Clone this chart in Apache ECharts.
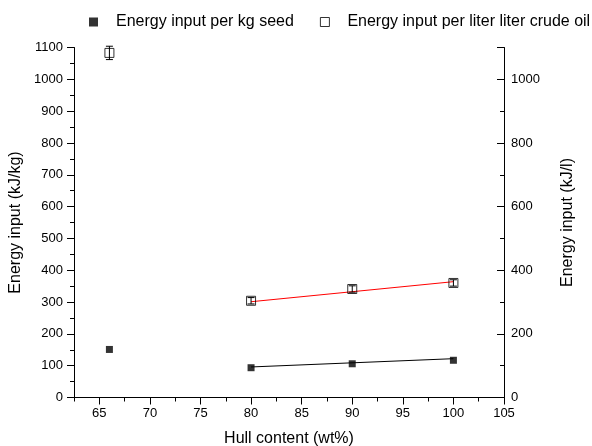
<!DOCTYPE html>
<html>
<head>
<meta charset="utf-8">
<script src="https://cdn.jsdelivr.net/npm/echarts@6/dist/echarts.min.js"></script>
<style>
  html, body { margin: 0; padding: 0; background: #fff; }
  #chart { width: 592px; height: 446px; }
</style>
</head>
<body>
<div id="chart"></div>
<script>
// Hull content (wt%) of the samples
const hull = [66, 80, 90, 100];
// Energy input per kg seed (kJ/kg), left axis
const perKg = [151, 93.6, 106, 117];
// Energy input per liter crude oil (kJ/l), right axis
const perLiter = [1083, 304, 341, 360];
const perLiterErr = [21, 10, 10, 10];
// Linear fits over 80-100 wt%
const fitHull = [80, 100];
const fitKg = [96, 122];
const fitLiter = [301, 364];

const FONT = 'Liberation Sans, Arial, Helvetica, sans-serif';
const ink = '#000';

// Plot box (px)
const PLOT_LEFT = 74, PLOT_RIGHT = 88, PLOT_TOP = 47.5, PLOT_BOTTOM = 48.5;
const X_MIN = 62.5, X_MAX = 105, X_LABEL_MIN = 65;
const pxPerUnit = (592 - PLOT_LEFT - PLOT_RIGHT) / (X_MAX - X_MIN);

const chart = echarts.init(document.getElementById('chart'), null, { renderer: 'canvas' });

const zip = (xs, ys) => xs.map((x, i) => [x, ys[i]]);

chart.setOption({
  animation: false,
  backgroundColor: '#fff',
  textStyle: { fontFamily: FONT, color: ink },
  legend: {
    orient: 'horizontal',
    top: 9,
    left: 84,
    width: 540,
    itemGap: 26,
    itemWidth: 9,
    itemHeight: 9,
    textStyle: { fontFamily: FONT, fontSize: 16, color: ink, padding: [0, 0, 0, 13] },
    data: [
      { name: 'Energy input per kg seed', icon: 'rect', itemStyle: { color: ink } },
      { name: 'Energy input per liter liter crude oil', icon: 'rect',
        itemStyle: { color: '#fff', borderColor: ink, borderWidth: 1 } }
    ]
  },
  grid: [
    { left: PLOT_LEFT, right: PLOT_RIGHT, top: PLOT_TOP, bottom: PLOT_BOTTOM,
      containLabel: false, outerBoundsMode: 'none' },
    // same box, starting at the first labelled value, for the major ticks and labels
    { left: PLOT_LEFT + (X_LABEL_MIN - X_MIN) * pxPerUnit, right: PLOT_RIGHT,
      top: PLOT_TOP, bottom: PLOT_BOTTOM, containLabel: false, outerBoundsMode: 'none' }
  ],
  xAxis: [
    {
      type: 'value',
      gridIndex: 0,
      min: X_MIN,
      max: X_MAX,
      interval: 2.5,
      name: 'Hull content (wt%)',
      nameLocation: 'middle',
      nameGap: 33,
      nameTextStyle: { fontFamily: FONT, fontSize: 16, color: ink },
      axisLine: { show: true, onZero: false, lineStyle: { color: ink, width: 1 } },
      axisTick: { show: true, inside: false, length: 4, lineStyle: { color: ink } },
      axisLabel: { show: false },
      splitLine: { show: false }
    },
    {
      type: 'value',
      gridIndex: 1,
      min: X_LABEL_MIN,
      max: X_MAX,
      interval: 5,
      axisLine: { show: false, onZero: false },
      axisTick: { show: true, inside: false, length: 7, lineStyle: { color: ink } },
      axisLabel: { fontFamily: FONT, fontSize: 13, color: ink, margin: 9 },
      splitLine: { show: false }
    }
  ],
  yAxis: [
    {
      type: 'value',
      gridIndex: 0,
      min: 0,
      max: 1100,
      interval: 100,
      name: 'Energy input (kJ/kg)',
      nameLocation: 'middle',
      nameRotate: 90,
      nameGap: 44,
      nameTextStyle: { fontFamily: FONT, fontSize: 16, color: ink },
      axisLine: { show: true, lineStyle: { color: ink, width: 1 } },
      axisTick: { show: true, inside: false, length: 7, lineStyle: { color: ink } },
      minorTick: { show: true, splitNumber: 2, length: 4, lineStyle: { color: ink } },
      axisLabel: { fontFamily: FONT, fontSize: 13, color: ink, margin: 11,
        formatter: v => String(v) },
      splitLine: { show: false }
    },
    {
      type: 'value',
      gridIndex: 0,
      position: 'right',
      min: 0,
      max: 1100,
      interval: 200,
      name: 'Energy input (kJ/l)',
      nameLocation: 'middle',
      nameRotate: 90,
      nameGap: 56,
      nameTextStyle: { fontFamily: FONT, fontSize: 16, color: ink },
      axisLine: { show: true, lineStyle: { color: ink, width: 1 } },
      axisTick: { show: true, inside: true, length: 7, lineStyle: { color: ink } },
      minorTick: { show: true, splitNumber: 2, length: 4, lineStyle: { color: ink } },
      axisLabel: { fontFamily: FONT, fontSize: 13, color: ink, margin: 7,
        formatter: v => (v % 200 === 0 ? String(v) : '') },
      splitLine: { show: false }
    },
    {
      type: 'value',
      gridIndex: 1,
      min: 0,
      max: 1100,
      show: false
    }
  ],
  series: [
    {
      name: 'fit kg',
      type: 'line',
      xAxisIndex: 0,
      yAxisIndex: 0,
      data: zip(fitHull, fitKg),
      symbol: 'none',
      lineStyle: { color: ink, width: 1 },
      silent: true,
      z: 2
    },
    {
      name: 'fit liter',
      type: 'line',
      xAxisIndex: 0,
      yAxisIndex: 1,
      data: zip(fitHull, fitLiter),
      symbol: 'none',
      lineStyle: { color: '#ff0000', width: 1 },
      silent: true,
      z: 2
    },
    {
      name: 'Energy input per kg seed',
      type: 'scatter',
      xAxisIndex: 0,
      yAxisIndex: 0,
      data: zip(hull, perKg),
      symbol: 'rect',
      symbolSize: 7,
      itemStyle: { color: ink },
      z: 3
    },
    {
      name: 'Energy input per liter liter crude oil',
      type: 'scatter',
      xAxisIndex: 0,
      yAxisIndex: 1,
      data: zip(hull, perLiter),
      symbol: 'rect',
      symbolSize: 9,
      itemStyle: { color: 'rgba(255,255,255,0)', borderColor: ink, borderWidth: 1 },
      z: 3
    },
    {
      name: 'oil error',
      type: 'custom',
      xAxisIndex: 0,
      yAxisIndex: 1,
      clip: false,
      silent: true,
      z: 4,
      data: hull.map((x, i) => [x, perLiter[i] - perLiterErr[i], perLiter[i] + perLiterErr[i]]),
      renderItem: (params, api) => {
        const lo = api.coord([api.value(0), api.value(1)]);
        const hi = api.coord([api.value(0), api.value(2)]);
        const w = 3.5;
        const style = { stroke: ink, lineWidth: 1 };
        return {
          type: 'group',
          children: [
            { type: 'line', shape: { x1: lo[0], y1: lo[1], x2: hi[0], y2: hi[1] }, style },
            { type: 'line', shape: { x1: lo[0] - w, y1: lo[1], x2: lo[0] + w, y2: lo[1] }, style },
            { type: 'line', shape: { x1: hi[0] - w, y1: hi[1], x2: hi[0] + w, y2: hi[1] }, style }
          ]
        };
      }
    }
  ]
});
</script>
</body>
</html>
